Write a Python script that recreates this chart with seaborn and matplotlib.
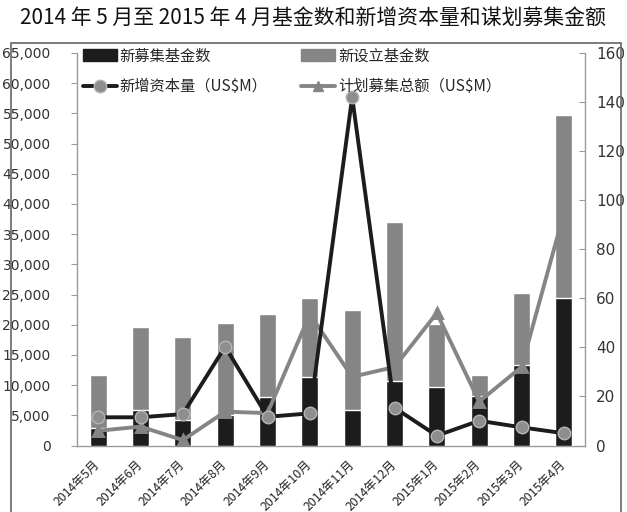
import numpy as np
import pandas as pd
import matplotlib
matplotlib.use("Agg")
import matplotlib.pyplot as plt
import seaborn as sns
from matplotlib.patches import Patch, Rectangle
from matplotlib.lines import Line2D
from matplotlib.ticker import FixedLocator, FuncFormatter

# ---- data ----
months = ["2014年5月", "2014年6月", "2014年7月", "2014年8月", "2014年9月", "2014年10月",
          "2014年11月", "2014年12月", "2015年1月", "2015年2月", "2015年3月", "2015年4月"]
new_raised_funds = [2850, 5800, 4200, 5000, 8000, 11400, 5800, 10700, 9700, 8200, 13400, 24400]
new_established_funds = [11700, 19600, 18000, 20300, 21700, 24500, 22400, 37000, 20200, 11700, 25200, 54700]
new_capital = [11.5, 11.5, 12.8, 40.3, 11.7, 13.1, 142.0, 15.4, 4.0, 10.1, 7.4, 5.0]
planned_total = [6.0, 7.7, 2.2, 13.8, 13.2, 53.5, 28.0, 32.0, 54.0, 17.9, 32.0, 94.6]
left_ticks = [0, 5000, 10000, 15000, 20000, 25000, 30000, 35000, 40000, 45000, 50000, 55000, 60000, 65000]
right_ticks = [0, 20, 40, 60, 80, 100, 120, 140, 160]

df = pd.DataFrame({"month": months, "raised": new_raised_funds, "established": new_established_funds,
                   "capital": new_capital, "planned": planned_total})

sns.set_theme(style="white")
plt.rcParams["font.family"] = ["Noto Sans CJK SC", "DejaVu Sans"]

BLACK = "#1c1c1c"
GRAY = "#858585"
AXC = "#9a9a9a"

fig = plt.figure(figsize=(6.27, 5.12), dpi=100)
ax = fig.add_axes([77 / 627, 1 - 445.5 / 512, (585 - 77) / 627, (445.5 - 53) / 512])

sns.barplot(data=df, x="month", y="established", color=GRAY, saturation=1, width=0.4, ax=ax, zorder=2)
sns.barplot(data=df, x="month", y="raised", color=BLACK, saturation=1, width=0.4, ax=ax, zorder=3)

ax2 = ax.twinx()
sns.pointplot(data=df, x="month", y="planned", color=GRAY, ax=ax2, marker="^", markersize=7,
              linewidth=2.8)
sns.pointplot(data=df, x="month", y="capital", color=BLACK, ax=ax2, marker="o", markersize=9,
              linewidth=2.8)
for ln in ax2.lines:
    if ln.get_marker() == "o":
        ln.set_markerfacecolor("#8e8e8e")
        ln.set_markeredgecolor("#b5b5b5")
        ln.set_markeredgewidth(1.0)
    else:
        ln.set_markerfacecolor(GRAY)
        ln.set_markeredgecolor(GRAY)

ax.set_ylim(0, 65000)
ax2.set_ylim(0, 160)
ax.set_xlim(-0.5, len(months) - 0.5)
ax2.set_xlim(-0.5, len(months) - 0.5)
ax.set_xlabel("")
ax.set_ylabel("")
ax2.set_xlabel("")
ax2.set_ylabel("")

ax.yaxis.set_major_locator(FixedLocator(left_ticks))
ax.yaxis.set_major_formatter(FuncFormatter(lambda v, p: f"{int(v):,}"))
ax2.yaxis.set_major_locator(FixedLocator(right_ticks))

ax.set_xticks(range(len(months)))
ax.set_xticks(np.arange(-0.5, len(months), 1.0), minor=True)
ax.set_xticklabels(months, rotation=45, ha="right", rotation_mode="anchor", va="center",
                   fontsize=8.8, color="#222222")
ax.tick_params(axis="x", which="major", length=0, pad=12)
ax.tick_params(axis="x", which="minor", length=5, color=AXC, width=0.8, direction="out")
ax.tick_params(axis="y", length=4, color=AXC, width=0.8, direction="out", pad=15,
               labelsize=10, labelcolor="#333333")
ax2.tick_params(axis="y", length=4, color=AXC, width=0.8, direction="in", pad=8,
                labelsize=11, labelcolor="#333333")
for lbl in ax.get_yticklabels() + ax2.get_yticklabels():
    lbl.set_family("DejaVu Sans")

for a in (ax, ax2):
    a.spines["top"].set_visible(False)
    for s in ("left", "right", "bottom"):
        a.spines[s].set_color(AXC)
        a.spines[s].set_linewidth(1.0)
ax.spines["right"].set_visible(False)
ax2.spines["left"].set_visible(False)
ax2.spines["bottom"].set_visible(False)
ax.grid(False)
ax2.grid(False)

handles = [
    Patch(facecolor=BLACK, edgecolor=BLACK),
    Line2D([0], [0], color=BLACK, lw=2.8, marker="o", markersize=9, markerfacecolor="#8e8e8e",
           markeredgecolor="#b5b5b5"),
    Patch(facecolor=GRAY, edgecolor=GRAY),
    Line2D([0], [0], color=GRAY, lw=2.8, marker="^", markersize=7),
]
labels = ["新募集基金数", "新增资本量（US$M）", "新设立基金数", "计划募集总额（US$M）"]
leg = ax2.legend(handles, labels, ncol=2, loc="upper left", bbox_to_anchor=(0.0, 1.03),
                 frameon=False, fontsize=11, handlelength=2.2, handleheight=0.8,
                 columnspacing=2.2, handletextpad=0.2, labelspacing=0.9, borderaxespad=0)

fig.text(0.5, 1 - 18 / 512, "2014 年 5 月至 2015 年 4 月基金数和新增资本量和谋划募集金额",
         ha="center", va="center", fontsize=15, color="#111111")

fig.add_artist(Rectangle((10.5 / 627, -0.05), (621 - 10.5) / 627, 1.05 - 43 / 512,
                         transform=fig.transFigure, fill=False, edgecolor="#666666", lw=1.2))

fig.savefig("out.png", dpi=100)
